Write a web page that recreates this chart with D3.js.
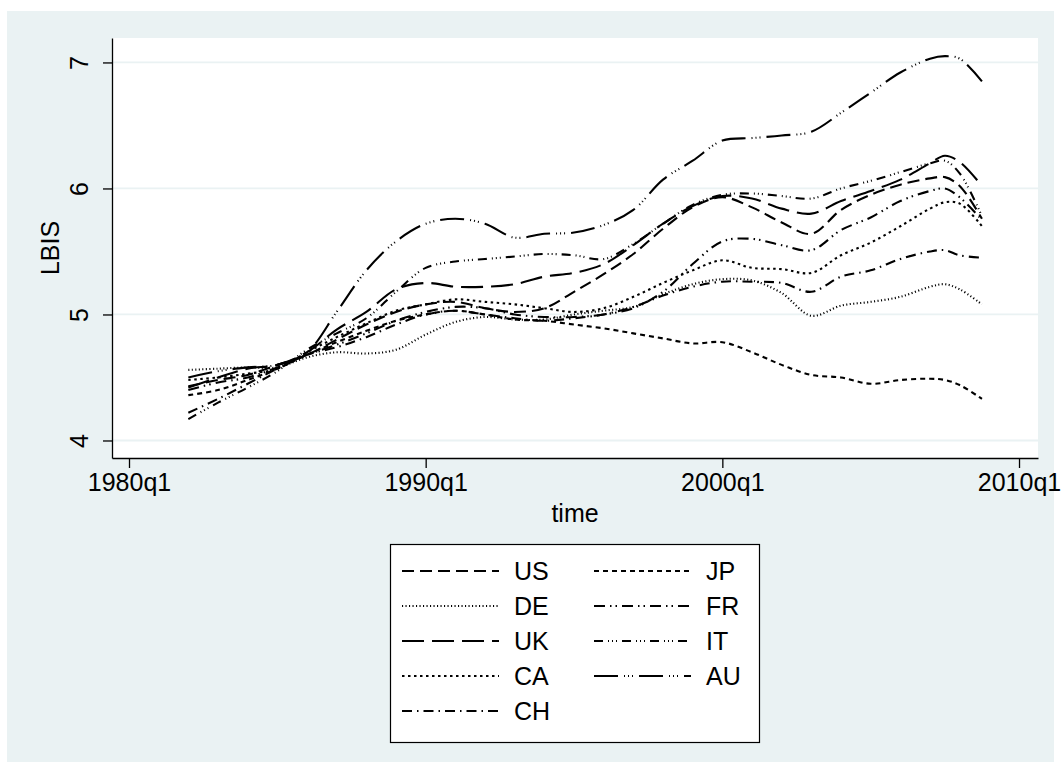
<!DOCTYPE html>
<html>
<head>
<meta charset="utf-8">
<script src="https://cdn.jsdelivr.net/npm/d3@7"></script>
<style>
  body { margin: 0; background: #fff; }
  svg { display: block; font-family: "Liberation Sans", Arial, sans-serif; }
</style>
</head>
<body>
<div id="chart"></div>
<script>
const time = [1982, 1983, 1984, 1985, 1986, 1987, 1988, 1989, 1990, 1991, 1992, 1993, 1994,
  1995, 1996, 1997, 1998, 1999, 2000, 2001, 2002, 2003, 2004, 2005, 2006, 2007, 2007.5, 2008, 2008.75];

const us = [4.43, 4.48, 4.52, 4.60, 4.68, 4.80, 4.92, 5.02, 5.08, 5.10, 5.05, 5.02, 5.05,
  5.18, 5.32, 5.48, 5.68, 5.85, 5.93, 5.85, 5.73, 5.64, 5.83, 5.95, 6.03, 6.08, 6.09, 6.02, 5.76];
const jp = [4.36, 4.40, 4.48, 4.57, 4.68, 4.78, 4.87, 4.95, 5.00, 5.03, 5.00, 4.96, 4.95,
  4.92, 4.89, 4.85, 4.81, 4.77, 4.78, 4.70, 4.60, 4.52, 4.50, 4.45, 4.48, 4.49, 4.48, 4.44, 4.33];
const de = [4.56, 4.57, 4.58, 4.58, 4.66, 4.70, 4.69, 4.72, 4.84, 4.94, 4.98, 4.96, 4.96,
  5.00, 5.03, 5.06, 5.16, 5.24, 5.28, 5.27, 5.17, 4.99, 5.07, 5.10, 5.14, 5.22, 5.24, 5.20, 5.08];
const fr = [4.40, 4.46, 4.50, 4.58, 4.68, 4.76, 4.85, 4.95, 5.02, 5.06, 5.05, 5.00, 4.98,
  4.98, 5.00, 5.05, 5.18, 5.40, 5.58, 5.60, 5.55, 5.51, 5.67, 5.77, 5.90, 5.98, 6.00, 5.93, 5.75];
const uk = [4.42, 4.50, 4.57, 4.60, 4.70, 4.88, 5.02, 5.20, 5.25, 5.22, 5.22, 5.24, 5.30,
  5.33, 5.40, 5.55, 5.72, 5.86, 5.94, 5.92, 5.84, 5.80, 5.90, 5.98, 6.07, 6.20, 6.26, 6.21, 6.02];
const it = [4.17, 4.30, 4.42, 4.55, 4.72, 4.85, 4.97, 5.18, 5.37, 5.42, 5.44, 5.46, 5.48,
  5.47, 5.44, 5.56, 5.72, 5.87, 5.95, 5.96, 5.94, 5.92, 6.00, 6.06, 6.13, 6.20, 6.22, 6.12, 5.78];
const ca = [4.48, 4.50, 4.53, 4.57, 4.70, 4.82, 4.93, 5.03, 5.08, 5.12, 5.10, 5.08, 5.05,
  5.02, 5.05, 5.14, 5.25, 5.35, 5.43, 5.37, 5.36, 5.33, 5.47, 5.57, 5.70, 5.84, 5.89, 5.88, 5.70];
const au = [4.50, 4.55, 4.58, 4.60, 4.70, 5.02, 5.35, 5.58, 5.72, 5.76, 5.72, 5.61, 5.64,
  5.65, 5.71, 5.83, 6.07, 6.22, 6.38, 6.40, 6.42, 6.45, 6.60, 6.76, 6.92, 7.03, 7.05, 7.03, 6.85];
const ch = [4.22, 4.33, 4.45, 4.57, 4.68, 4.74, 4.82, 4.92, 5.00, 5.03, 5.00, 4.97, 4.95,
  4.97, 5.00, 5.06, 5.15, 5.22, 5.26, 5.26, 5.25, 5.18, 5.30, 5.35, 5.44, 5.50, 5.51, 5.47, 5.45];

const names = ['US', 'JP', 'DE', 'FR', 'UK', 'IT', 'CA', 'AU', 'CH'];
const values = [us, jp, de, fr, uk, it, ca, au, ch];
const yTicks = [4, 5, 6, 7];
const xTicks = [1980, 1990, 2000, 2010];

// stata-ish line patterns, one per series (same order as names)
const dashes = {
  US: '12,6',
  JP: '5,4',
  DE: '1.1,2.4',
  FR: '11,5,1.5,4,1.5,5',
  UK: '22,8',
  IT: '9,5,1,3,1,3,1,5',
  CA: '2.5,3.5',
  AU: '24,6,1,3,1,3,1,6',
  CH: '10,5,1.5,5'
};

const W = 1061, H = 773;
const bg = '#eaf2f3';
const plot = {left: 112, right: 1038, top: 38, bottom: 458};
const lw = 2.1;

const svg = d3.select('#chart').append('svg')
  .attr('width', W)
  .attr('height', H);

// graph region
svg.append('rect')
  .attr('x', 7).attr('y', 11)
  .attr('width', 1047).attr('height', 751)
  .attr('fill', bg);

svg.append('rect')
  .attr('x', plot.left).attr('y', plot.top)
  .attr('width', plot.right - plot.left)
  .attr('height', plot.bottom - plot.top)
  .attr('fill', '#fff');

const x = d3.scaleLinear()
  .domain([1979.427, 2010.64])
  .range([plot.left, plot.right]);
const y = d3.scaleLinear()
  .domain([3.861, 7.194])
  .range([plot.bottom, plot.top]);

// grid
svg.append('g')
  .selectAll('line')
  .data(yTicks)
  .join('line')
  .attr('x1', plot.left).attr('x2', plot.right)
  .attr('y1', d => y(d)).attr('y2', d => y(d))
  .attr('stroke', bg)
  .attr('stroke-width', 1.8);

// series
const line = d3.line()
  .x((d, i) => x(time[i]))
  .y(d => y(d))
  .curve(d3.curveCatmullRom.alpha(0.5));

svg.append('g')
  .selectAll('path')
  .data(names)
  .join('path')
  .attr('d', (n, i) => line(values[i]))
  .attr('fill', 'none')
  .attr('stroke', '#000')
  .attr('stroke-width', lw)
  .attr('stroke-dasharray', n => dashes[n]);

// axes
const yAxis = svg.append('g')
  .attr('transform', `translate(${plot.left},0)`)
  .call(d3.axisLeft(y).tickValues(yTicks).tickFormat(d3.format('d'))
    .tickSize(9).tickSizeOuter(0));
yAxis.selectAll('text')
  .attr('font-size', 25)
  .attr('fill', '#000')
  .attr('text-anchor', 'middle')
  .attr('dy', 0)
  .attr('x', 0)
  .attr('transform', 'translate(-33,0) rotate(-90)')
  .attr('dominant-baseline', 'central');

const xAxis = svg.append('g')
  .attr('transform', `translate(0,${plot.bottom})`)
  .call(d3.axisBottom(x).tickValues(xTicks).tickFormat(d => `${d}q1`)
    .tickSize(10).tickSizeOuter(0).tickPadding(5));
xAxis.selectAll('text')
  .attr('font-size', 25)
  .attr('fill', '#000');

for (let ax of [xAxis, yAxis]) {
  ax.select('.domain').attr('stroke', '#000').attr('stroke-width', 1.3);
  ax.selectAll('.tick line').attr('stroke', '#000').attr('stroke-width', 1.3);
}

// axis titles
svg.append('text')
  .attr('transform', `translate(50,${(plot.top + plot.bottom) / 2}) rotate(-90)`)
  .attr('text-anchor', 'middle')
  .attr('dominant-baseline', 'central')
  .attr('font-size', 25)
  .text('LBIS');

svg.append('text')
  .attr('x', (plot.left + plot.right) / 2)
  .attr('y', 522)
  .attr('text-anchor', 'middle')
  .attr('font-size', 25)
  .text('time');

// legend: two columns, filled row by row
const legend = svg.append('g');
legend.append('rect')
  .attr('x', 390.5).attr('y', 544.5)
  .attr('width', 369).attr('height', 198)
  .attr('fill', '#fff')
  .attr('stroke', '#000')
  .attr('stroke-width', 1.2);

const item = legend.selectAll('g.item')
  .data(names)
  .join('g')
  .classed('item', true)
  .attr('transform', (n, i) => `translate(${i % 2 ? 594 : 402},${571 + 35 * Math.floor(i / 2)})`);
item.append('line')
  .attr('x1', 0).attr('x2', 97)
  .attr('stroke', '#000')
  .attr('stroke-width', lw)
  .attr('stroke-dasharray', n => dashes[n]);
item.append('text')
  .attr('x', 112)
  .attr('dy', 9)
  .attr('font-size', 25)
  .text(n => n);
</script>
</body>
</html>
